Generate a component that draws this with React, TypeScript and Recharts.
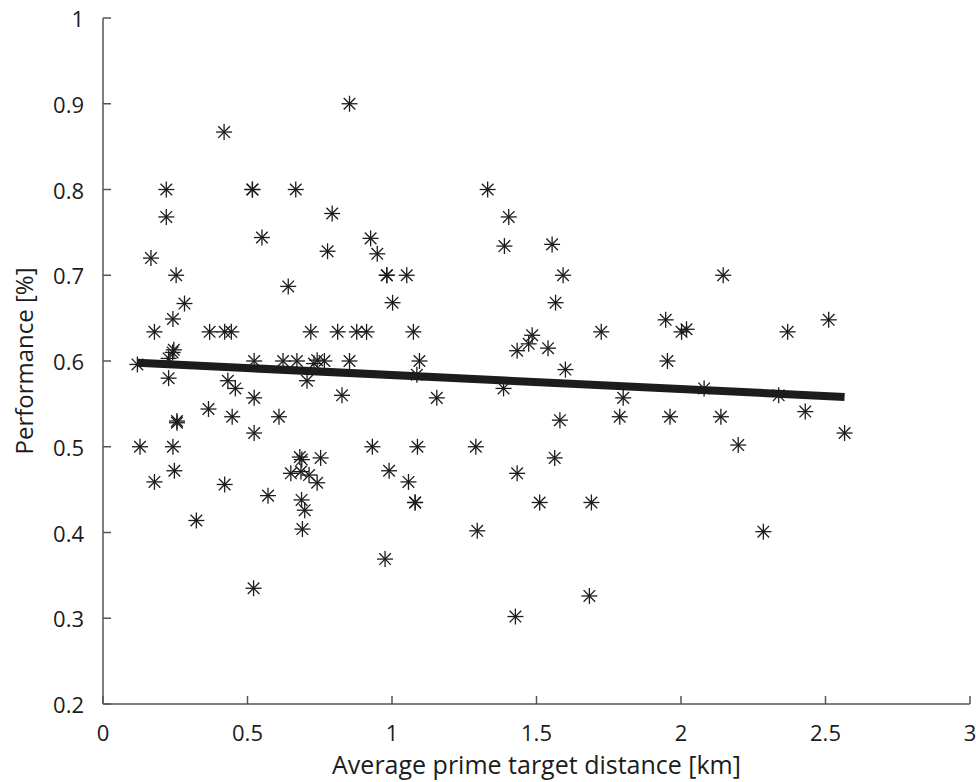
import { Label, Scatter, ScatterChart, XAxis, YAxis } from "recharts";

const INK = "#1c1c1c";
const AXIS = "#555";
const FONT = "'Open Sans', sans-serif";

const X_TICKS = [0, 0.5, 1, 1.5, 2, 2.5, 3];
const Y_TICKS = [0.2, 0.3, 0.4, 0.5, 0.6, 0.7, 0.8, 0.9, 1];

// average prime-target distance per participant [km]
const DIST = [
  0.853, 0.419, 0.219, 0.517, 0.517, 0.667, 1.331, 0.219, 0.793, 1.404,
  0.166, 0.55, 0.777, 1.389, 1.554, 0.926, 0.949, 0.982, 0.982, 1.051,
  1.592, 0.253, 2.146, 1.002, 1.566, 0.282, 0.641, 0.242,
  0.178, 0.369, 0.421, 0.444, 0.719, 0.812, 0.878, 0.912, 1.074, 1.724, 2.002, 2.369,
  2.019, 1.947, 2.511, 1.485, 1.473, 1.433, 1.54, 1.6, 0.245, 0.241,
  0.227, 0.523, 0.623, 0.671, 0.73, 0.741, 0.766, 0.853, 1.095, 1.953,
  0.119, 0.227, 0.432, 0.458, 0.523, 0.706, 0.827, 1.086, 1.155, 1.386, 1.581,
  0.365, 0.447, 0.609, 0.256, 0.256, 0.523,
  0.128, 0.242, 0.932, 1.088, 1.29, 2.198,
  0.681, 0.688, 0.753, 1.563, 0.65, 0.685, 0.713, 0.741, 0.247, 0.178, 0.421, 0.99, 1.057, 1.433,
  0.571, 0.687, 0.698, 0.323, 0.69, 0.521,
  1.08, 1.08, 1.511, 1.69, 1.295, 0.976, 1.683, 1.427, 2.285,
  2.08, 2.338, 1.8, 1.788, 1.962, 2.138, 2.43, 2.566,
];

// performance [%] for the same participants
const PERF = [
  0.9, 0.867, 0.8, 0.8, 0.8, 0.8, 0.8, 0.768, 0.772, 0.768,
  0.72, 0.744, 0.728, 0.734, 0.736, 0.743, 0.725, 0.7, 0.7, 0.7,
  0.7, 0.7, 0.7, 0.668, 0.668, 0.667, 0.687, 0.649,
  0.634, 0.634, 0.634, 0.634, 0.634, 0.634, 0.634, 0.634, 0.634, 0.634, 0.634, 0.634,
  0.637, 0.648, 0.648, 0.63, 0.62, 0.612, 0.615, 0.59, 0.613, 0.61,
  0.603, 0.6, 0.6, 0.6, 0.597, 0.601, 0.6, 0.6, 0.6, 0.6,
  0.596, 0.58, 0.577, 0.568, 0.557, 0.577, 0.56, 0.584, 0.557, 0.568, 0.531,
  0.544, 0.535, 0.535, 0.53, 0.528, 0.516,
  0.5, 0.5, 0.5, 0.5, 0.5, 0.502,
  0.488, 0.485, 0.487, 0.487, 0.469, 0.471, 0.467, 0.458, 0.472, 0.459, 0.456, 0.472, 0.459, 0.469,
  0.443, 0.438, 0.426, 0.414, 0.404, 0.335,
  0.435, 0.435, 0.435, 0.435, 0.402, 0.369, 0.326, 0.302, 0.401,
  0.568, 0.56, 0.557, 0.535, 0.535, 0.535, 0.541, 0.516,
];

// least-squares fit, drawn over the data range
const FIT_X = [0.119, 2.566];
const FIT_Y = [0.598, 0.558];

const points = DIST.map((x, i) => ({ x, y: PERF[i] }));
const fit = FIT_X.map((x, i) => ({ x, y: FIT_Y[i] }));

function Asterisk(props: any) {
  const { cx, cy } = props;
  if (cx == null || cy == null) return <g />;
  const r = 8;
  const d = 5.8;
  return (
    <g stroke={INK} strokeWidth={1.3}>
      <line x1={cx - r} y1={cy} x2={cx + r} y2={cy} />
      <line x1={cx} y1={cy - r} x2={cx} y2={cy + r} />
      <line x1={cx - d} y1={cy - d} x2={cx + d} y2={cy + d} />
      <line x1={cx - d} y1={cy + d} x2={cx + d} y2={cy - d} />
    </g>
  );
}

function YTick(props: any) {
  const { x, y, payload } = props;
  return (
    <g>
      <line x1={x} x2={x + 8} y1={y} y2={y} stroke={AXIS} strokeWidth={1.5} />
      <text x={x - 19} y={y} textAnchor="end" dominantBaseline="central" fontFamily={FONT} fontSize={22} fill={INK}>
        {String(payload.value)}
      </text>
    </g>
  );
}

function XTick(props: any) {
  const { x, y, payload } = props;
  return (
    <g>
      <line x1={x} x2={x} y1={y} y2={y - 8} stroke={AXIS} strokeWidth={1.5} />
      <text x={x} y={y + 28} textAnchor="middle" dominantBaseline="central" fontFamily={FONT} fontSize={22} fill={INK}>
        {String(payload.value)}
      </text>
    </g>
  );
}

function XTitle(props: any) {
  const vb = props.viewBox || { x: 103, y: 704, width: 867 };
  return (
    <text x={vb.x + vb.width / 2} y={vb.y + 70} textAnchor="middle" fontFamily={FONT} fontSize={25} fill={INK}>
      Average prime target distance [km]
    </text>
  );
}

function YTitle(props: any) {
  const vb = props.viewBox || { x: 0, y: 18, height: 686 };
  const cx = 23;
  const cy = vb.y + vb.height / 2;
  return (
    <text
      x={cx}
      y={cy}
      transform={`rotate(-90, ${cx}, ${cy})`}
      textAnchor="middle"
      dominantBaseline="central"
      fontFamily={FONT}
      fontSize={24}
      fill={INK}
    >
      Performance [%]
    </text>
  );
}

export default function App() {
  return (
    <div style={{ position: "absolute", left: 0, top: 0, background: "#fff" }}>
      <ScatterChart width={976} height={782} margin={{ top: 18, right: 6, left: 0, bottom: 0 }}>
        <XAxis
          type="number"
          dataKey="x"
          domain={[0, 3]}
          ticks={X_TICKS}
          interval={0}
          height={78}
          tickSize={0}
          tickMargin={0}
          tickLine={false}
          axisLine={{ stroke: AXIS, strokeWidth: 1.5 }}
          tick={<XTick />}
          allowDataOverflow
        >
          <Label content={<XTitle />} />
        </XAxis>
        <YAxis
          type="number"
          dataKey="y"
          domain={[0.2, 1]}
          ticks={Y_TICKS}
          interval={0}
          width={103}
          tickSize={0}
          tickMargin={0}
          tickLine={false}
          axisLine={{ stroke: AXIS, strokeWidth: 1.5 }}
          tick={<YTick />}
          allowDataOverflow
        >
          <Label content={<YTitle />} />
        </YAxis>
        <Scatter data={points} shape={<Asterisk />} isAnimationActive={false} />
        <Scatter
          data={fit}
          line={{ stroke: INK, strokeWidth: 8 }}
          shape={() => <g />}
          isAnimationActive={false}
        />
      </ScatterChart>
    </div>
  );
}
